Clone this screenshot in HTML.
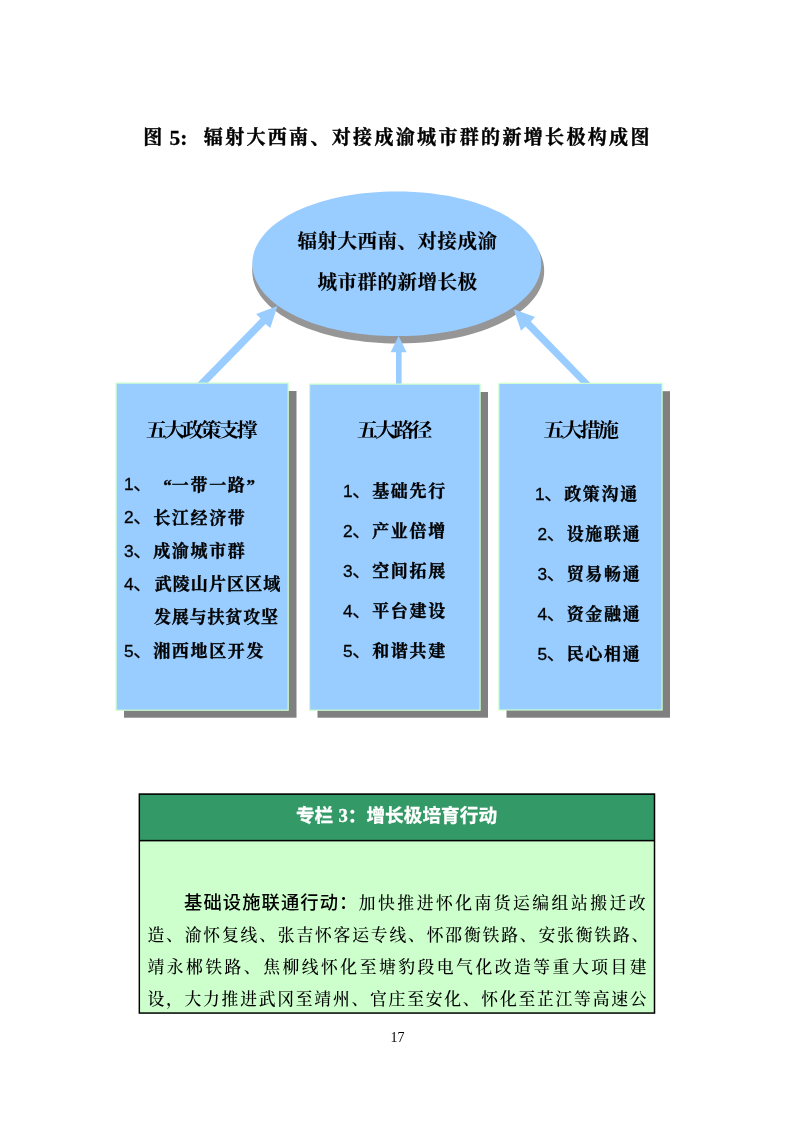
<!DOCTYPE html>
<html lang="zh-CN">
<head>
<meta charset="utf-8">
<title>图 5: 辐射大西南、对接成渝城市群的新增长极构成图</title>
<style>
html,body{margin:0;padding:0;background:#fff;}
body{width:793px;height:1122px;position:relative;overflow:hidden;color:#000;
  font-family:"Liberation Serif","Noto Serif CJK SC",serif;}
.page{position:absolute;left:0;top:0;width:793px;height:1122px;overflow:hidden;background:#fff;}
.txt{position:absolute;left:0;top:0;width:793px;height:1122px;will-change:transform;}
.abs{position:absolute;white-space:nowrap;margin:0;padding:0;}
.kai{font-family:"Liberation Serif","Noto Serif CJK SC",serif;}
.song{font-family:"Liberation Serif","Noto Serif CJK SC",serif;}
.hei{font-family:"Liberation Sans","Noto Sans CJK SC",sans-serif;}
.lat{font-family:"Liberation Serif",serif;letter-spacing:0;}
svg{position:absolute;left:0;top:0;}

/* title */
.title{top:122.7px;height:30px;line-height:30px;font-size:19px;letter-spacing:2.33px;font-weight:700;-webkit-text-stroke:0.4px #000;}
.title.lat{font-size:21.33px;letter-spacing:0;-webkit-text-stroke:0.3px #000;}

/* ellipse text */
.etxt{-webkit-text-stroke:0.2px #000;left:1px;width:793px;text-align:center;font-size:19.5px;letter-spacing:0.5px;font-weight:700;line-height:26px;height:26px;}
.e1{top:229px;}
.e2{top:270px;}

/* box headings */
.bh{font-size:21px;font-weight:700;letter-spacing:-2.85px;line-height:26px;height:26px;transform:scaleY(0.9);transform-origin:0 50%;}

/* box items */
.it{font-size:17px;letter-spacing:1.67px;font-weight:700;line-height:26px;height:26px;-webkit-text-stroke:0.35px #000;}
.it .n{-webkit-text-stroke:0.3px #000;font-family:"Liberation Sans",sans-serif;font-weight:400;font-size:17.3px;letter-spacing:0;display:inline-block;width:9.33px;}
.it .q{display:inline-block;width:18.67px;letter-spacing:0;}
.it .ql{text-align:right;}
.it .qr{text-align:left;}
.it .c{position:relative;left:1.2px;}
.it .c1{top:1px;}
.it .d{-webkit-text-stroke:0.25px #000;font-family:"Liberation Sans","Noto Sans CJK SC",sans-serif;font-weight:400;font-size:18.67px;letter-spacing:0;}

/* table */
.tht{-webkit-text-stroke:0.3px #fff;left:0;width:793px;top:802px;height:28px;line-height:28px;text-align:center;color:#fff;font-size:18.67px;font-weight:700;}
.bd{font-size:16.8px;font-weight:500;line-height:28px;height:28px;left:147.4px;width:499.2px;text-align:justify;text-align-last:justify;}
.bd1{text-align:left;text-align-last:left;width:auto;letter-spacing:2.5px;}
.bdb{font-family:"Liberation Sans","Noto Sans CJK SC",sans-serif;font-weight:500;font-size:18.3px;letter-spacing:1.1px;text-align:left;text-align-last:left;width:auto;}
.pn{left:1px;width:793px;text-align:center;top:1029px;font-size:14px;line-height:18px;height:18px;}
</style>
</head>
<body>
<div class="page">

<svg width="793" height="1122" viewBox="0 0 793 1122">
  <!-- ellipse shadow -->
  <path d="M544.2,270.9 C544.2,311.83 480.62,343.4 398.2,343.4 C315.78,343.4 252.2,311.83 252.2,270.9 C252.2,229.97 315.78,198.4 398.2,198.4 C480.62,198.4 544.2,229.97 544.2,270.9Z" fill="#969696"/>
  <!-- arrows -->
  <g fill="#99ccff">
    <polygon points="277.5,306 256.1,313.9 260.5,318.6 196.9,383.5 207.3,383.5 265.5,323.9 270.3,328.1"/>
    <polygon points="398.6,336 390.6,352.2 396,352.2 396,384 401.6,384 401.6,352.2 406.6,352.2"/>
    <polygon points="513.8,309.2 535,317.1 530.8,321.5 590.8,383.5 581.3,383.5 525.5,326.4 521,330.8"/>
  </g>
  <!-- ellipse -->
  <path d="M541.2,263.75 C541.2,304.59 478.29,336.1 396.75,336.1 C315.21,336.1 252.3,304.59 252.3,263.75 C252.3,222.91 315.21,191.4 396.75,191.4 C478.29,191.4 541.2,222.91 541.2,263.75Z" fill="#99ccff"/>
  <!-- box shadows -->
  <g fill="#808080">
    <rect x="124" y="391" width="172.5" height="326.7"/>
    <rect x="317.5" y="392" width="170.5" height="325.7"/>
    <rect x="506.5" y="391.2" width="163.5" height="326.5"/>
  </g>
  <!-- boxes -->
  <g fill="#99ccff" stroke="#ccffcc" stroke-width="1.2">
    <rect x="116.1" y="383.1" width="172.1" height="327.1"/>
    <rect x="309.6" y="384.1" width="170.5" height="326.1"/>
    <rect x="498.9" y="383.4" width="163.2" height="326.6"/>
  </g>
  <!-- table -->
  <rect x="138.6" y="793.3" width="516.65" height="220.5" fill="#000"/>
  <rect x="140.05" y="794.9" width="513.7" height="44.95" fill="#339966"/>
  <rect x="140.05" y="841.4" width="513.7" height="170.9" fill="#ccffcc"/>
</svg>

<div class="txt">
<div class="abs title kai" style="left:143.2px;">图</div>
<div class="abs title lat" style="left:169.5px;">5:</div>
<div class="abs title kai" style="left:203.8px;">辐射大西南、对接成渝城市群的新增长极构成图</div>

<div class="abs etxt e1 song">辐射大西南、对接成渝</div>
<div class="abs etxt e2 song">城市群的新增长极</div>

<div class="abs bh song" style="left:146px;top:417.5px;">五大政策支撑</div>
<div class="abs bh song" style="left:357px;top:418.4px;">五大路径</div>
<div class="abs bh song" style="left:543.5px;top:417.8px;">五大措施</div>

<div class="abs it kai" style="left:124px;top:471px;"><span class="n">1</span><span class="d">、</span><span class="c c1"><span class="q ql">“</span>一带一路<span class="q qr">”</span></span></div>
<div class="abs it kai" style="left:124px;top:504.3px;"><span class="n">2</span><span class="d">、</span><span class="c c1">长江经济带</span></div>
<div class="abs it kai" style="left:124px;top:537.6px;"><span class="n">3</span><span class="d">、</span><span class="c">成渝城市群</span></div>
<div class="abs it kai" style="left:124px;top:571px;"><span class="n">4</span><span class="d">、</span><span class="c" style="left:2.7px;letter-spacing:1.1px;">武陵山片区区域</span></div>
<div class="abs it kai" style="left:152px;top:604.3px;"><span class="c c1" style="left:1.9px;letter-spacing:0.85px;">发展与扶贫攻坚</span></div>
<div class="abs it kai" style="left:124px;top:637.6px;"><span class="n">5</span><span class="d">、</span><span class="c">湘西地区开发</span></div>

<div class="abs it kai" style="left:343px;top:477.5px;"><span class="n">1</span><span class="d">、</span><span class="c">基础先行</span></div>
<div class="abs it kai" style="left:343px;top:517.5px;"><span class="n">2</span><span class="d">、</span><span class="c">产业倍增</span></div>
<div class="abs it kai" style="left:343px;top:557.5px;"><span class="n">3</span><span class="d">、</span><span class="c">空间拓展</span></div>
<div class="abs it kai" style="left:343px;top:597.5px;"><span class="n">4</span><span class="d">、</span><span class="c">平台建设</span></div>
<div class="abs it kai" style="left:343px;top:637.5px;"><span class="n">5</span><span class="d">、</span><span class="c">和谐共建</span></div>

<div class="abs it kai" style="left:535px;top:480.5px;"><span class="n">1</span><span class="d">、</span><span class="c">政策沟通</span></div>
<div class="abs it kai" style="left:537.5px;top:520.5px;"><span class="n">2</span><span class="d">、</span><span class="c">设施联通</span></div>
<div class="abs it kai" style="left:537.5px;top:560.5px;"><span class="n">3</span><span class="d">、</span><span class="c">贸易畅通</span></div>
<div class="abs it kai" style="left:537.5px;top:600.5px;"><span class="n">4</span><span class="d">、</span><span class="c">资金融通</span></div>
<div class="abs it kai" style="left:537.5px;top:640.5px;"><span class="n">5</span><span class="d">、</span><span class="c">民心相通</span></div>

<div class="abs tht hei">专栏 <span class="lat">3</span>：增长极培育行动</div>

<div class="abs bd bdb hei" style="top:889px;left:184px;">基础设施联通行动：</div>
<div class="abs bd bd1 kai" style="top:890px;left:358.8px;">加快推进怀化南货运编组站搬迁改</div>
<div class="abs bd kai" style="top:922px;width:501px;">造、渝怀复线、张吉怀客运专线、怀邵衡铁路、安张衡铁路、</div>
<div class="abs bd kai" style="top:954px;">靖永郴铁路、焦柳线怀化至塘豹段电气化改造等重大项目建</div>
<div class="abs bd kai" style="top:986px;">设，大力推进武冈至靖州、官庄至安化、怀化至芷江等高速公</div>

<div class="abs pn lat">17</div>
</div>

</div>
</body>
</html>
